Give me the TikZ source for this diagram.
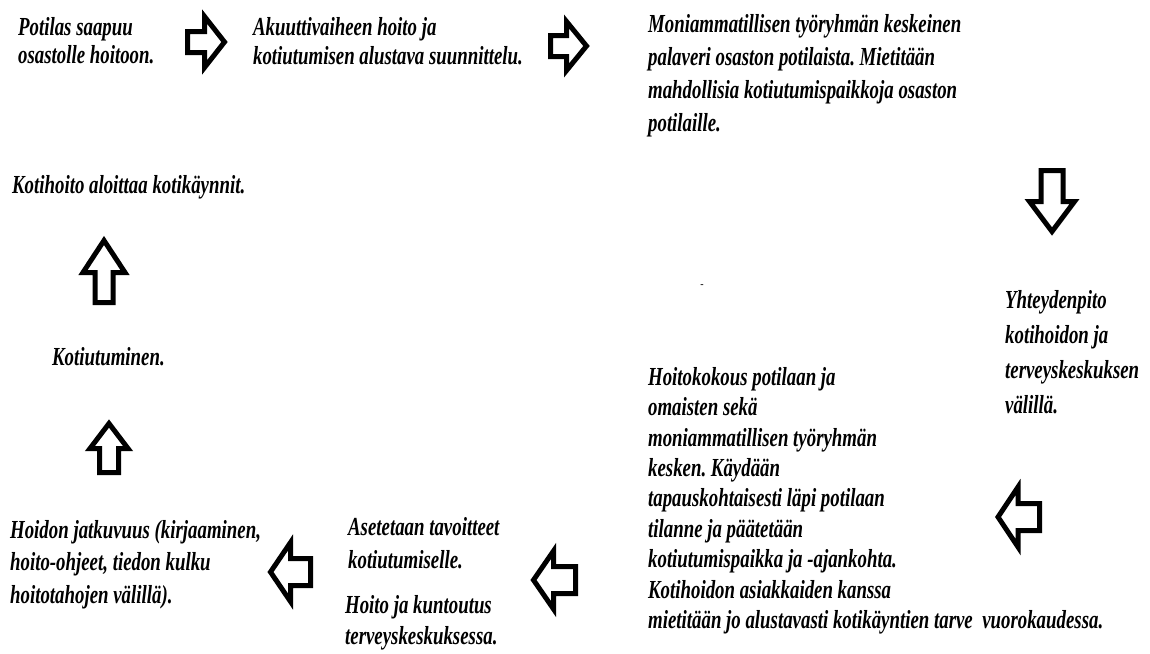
\documentclass[tikz,border=0pt]{standalone}
\usepackage{fontspec}
\setmainfont{Liberation Serif}
\frenchspacing

\tikzset{phase/.style={anchor=north west, inner sep=0pt, align=left, xscale=0.725,
    font=\bfseries\itshape\fontsize{26}{#1}\selectfont}}
\tikzstyle{arrowline}=[draw=black, line width=5pt, fill=white, line join=miter]
\tikzset{pics/blockarrow/.style args={#1/#2/#3/#4}{code={
    \draw[arrowline] (0,{-#3/2}) -- ({#1-#2},{-#3/2}) -- ({#1-#2},{-#4/2}) -- (#1,0)
      -- ({#1-#2},{#4/2}) -- ({#1-#2},{#3/2}) -- (0,{#3/2}) -- cycle;
}}}

\begin{document}
\begin{tikzpicture}[x=1pt, y=-1pt]
	\useasboundingbox (0,0) rectangle (1150,653);
	%top row
	\node[phase=28] (arrive) at (18,17) {Potilas saapuu\\osastolle hoitoon.};
	\node[phase=29] (acute) at (253,17) {Akuuttivaiheen hoito ja\\kotiutumisen alustava suunnittelu.};
	\node[phase=33] (meeting) at (648,14) {Moniammatillisen työryhmän keskeinen\\palaveri osaston potilaista. Mietitään\\mahdollisia kotiutumispaikkoja osaston\\potilaille.};
	%right side
	\node[phase=35] (contact) at (1005,290) {Yhteydenpito\\kotihoidon ja\\terveyskeskuksen\\välillä.};
	\node[anchor=center, inner sep=0pt, font=\bfseries\fontsize{10}{10}\selectfont] (dash) at (702,286) {-};
	\node[phase=30.4] (carecon) at (648,367) {Hoitokokous potilaan ja\\omaisten sekä\\moniammatillisen työryhmän\\kesken. Käydään\\tapauskohtaisesti läpi potilaan\\tilanne ja päätetään\\kotiutumispaikka ja -ajankohta.\\Kotihoidon asiakkaiden kanssa\\mietitään jo alustavasti kotikäyntien tarve \ vuorokaudessa.};
	%bottom row
	\node[phase=33] (goals) at (348,517) {Asetetaan tavoitteet\\kotiutumiselle.};
	\node[phase=31] (rehab) at (345,595) {Hoito ja kuntoutus\\terveyskeskuksessa.};
	\node[phase=32.5] (contin) at (10,520) {Hoidon jatkuvuus (kirjaaminen,\\hoito-ohjeet, tiedon kulku\\hoitotahojen välillä).};
	%left side
	\node[phase=30] (home) at (52,347) {Kotiutuminen.};
	\node[phase=30] (visits) at (12,175) {Kotihoito aloittaa kotikäynnit.};
	%arrows
	\pic (arrA) at (187.5,42) {blockarrow=37/20/21/51};
	\pic (arrB) at (550.5,46) {blockarrow=36/20/21/49};
	\pic[rotate=-90] (arrC) at (1052,170.5) {blockarrow=61/30/22/45};
	\pic[rotate=180] (arrD) at (1039.5,517) {blockarrow=41.5/20/27/60};
	\pic[rotate=180] (arrE) at (575.5,580) {blockarrow=42/20/27/58};
	\pic[rotate=180] (arrF) at (310.5,572) {blockarrow=40/20/27/59};
	\pic[rotate=90] (arrG) at (109,472.5) {blockarrow=49/25/19/38};
	\pic[rotate=90] (arrH) at (104,302.5) {blockarrow=62/32/18/42};
\end{tikzpicture}
\end{document}
